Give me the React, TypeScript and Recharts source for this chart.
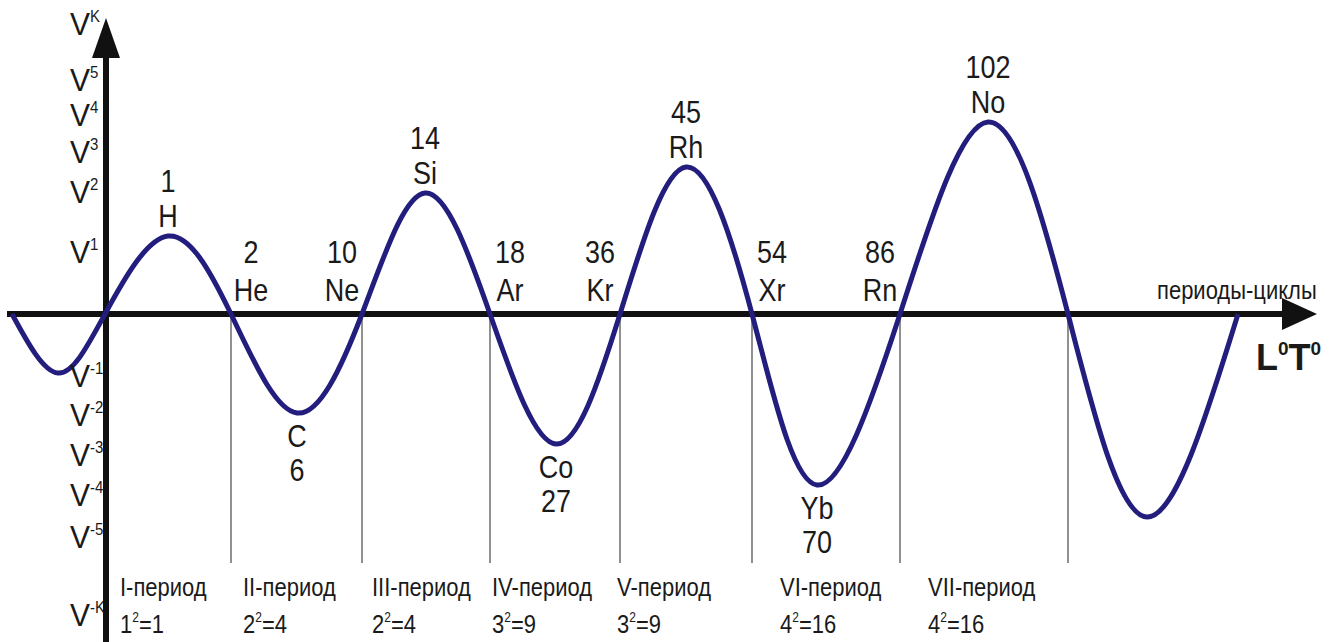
import React from "react";
import {
  ComposedChart,
  Line,
  ReferenceDot,
  ReferenceLine,
  XAxis,
  YAxis
} from "recharts";

// wave: zero crossings and extremes, x along the axis, v up from the axis
const curveX = [12, 58, 105, 168, 231, 297, 362, 425, 490, 556, 620, 686, 752, 817, 900, 988, 1068, 1147, 1238];
const curveV = [0, -59, 0, 78, 0, -99, 0, 121, 0, -130, 0, 147, 0, -171, 0, 192, 0, -203, 0];

// nodes where the wave crosses the axis (the period borders)
const periodBorders = [231, 362, 490, 620, 752, 900, 1068];

const peakElements = [
  { x: 168, v: 78, num: "1", sym: "H" },
  { x: 425, v: 121, num: "14", sym: "Si" },
  { x: 686, v: 147, num: "45", sym: "Rh" },
  { x: 988, v: 192, num: "102", sym: "No" }
];
const troughElements = [
  { x: 297, v: -99, num: "6", sym: "C" },
  { x: 556, v: -130, num: "27", sym: "Co" },
  { x: 817, v: -171, num: "70", sym: "Yb" }
];
const nodeElementsRight = [
  { x: 231, num: "2", sym: "He" },
  { x: 490, num: "18", sym: "Ar" },
  { x: 752, num: "54", sym: "Xr" }
];
const nodeElementsLeft = [
  { x: 362, num: "10", sym: "Ne" },
  { x: 620, num: "36", sym: "Kr" },
  { x: 900, num: "86", sym: "Rn" }
];

// V^k labels on the vertical axis
const vTickValues = [290, 234, 199, 162, 122, 62, -62, -101, -141, -181, -223, -301];
const vTickExps = ["K", "5", "4", "3", "2", "1", "-1", "-2", "-3", "-4", "-5", "-K"];

// period captions under the axis
const periodTickX = [120, 243, 372, 492, 617, 780, 928];
const periodNames = ["I-период", "II-период", "III-период", "IV-период", "V-период", "VI-период", "VII-период"];
const periodBases = ["1", "2", "2", "3", "3", "4", "4"];
const periodSquares = ["1", "4", "4", "9", "9", "16", "16"];

const curveData = curveX.map((x, i) => ({ x, v: curveV[i] }));

const curveColor = "#231e7d";
const axisColor = "#111111";
const textColor = "#1a1a1a";
const font = "'Liberation Sans', Arial, sans-serif";

const W = 1337;
const H = 642;

// the source lettering is a bit taller than Arial, stretch it vertically
const tall = (x: number, y: number, k = 1.15) => `translate(${x} ${y}) scale(1 ${k})`;

const VTick = (props: any) => {
  const idx = vTickValues.indexOf(props.payload.value);
  const exp = vTickExps[idx] ?? "";
  return (
    <text transform={tall(70, props.y + 11, 1.05)} fill={textColor} fontFamily={font} fontSize={30}>
      V
      <tspan dy={-12} fontSize={15}>
        {exp}
      </tspan>
    </text>
  );
};

const PeriodTick = (props: any) => {
  const idx = periodTickX.indexOf(props.payload.value);
  if (idx < 0) return null;
  const x = props.x;
  return (
    <g fill={textColor} fontFamily={font}>
      <text transform={tall(x, 596, 1.2)} fontSize={22}>
        {periodNames[idx]}
      </text>
      <text transform={tall(x, 633, 1.2)} fontSize={22}>
        {periodBases[idx]}
        <tspan dy={-9} fontSize={12}>
          2
        </tspan>
        <tspan dy={9}>={periodSquares[idx]}</tspan>
      </text>
    </g>
  );
};

const ElementLabel = ({
  cx,
  cy,
  num,
  sym,
  kind
}: {
  cx: number;
  cy: number;
  num: string;
  sym: string;
  kind: "peak" | "trough" | "right" | "left";
}) => {
  let x = cx;
  let numY = cy - 44;
  let symY = cy - 9;
  if (kind === "trough") {
    symY = cy + 34;
    numY = cy + 68;
  } else if (kind === "right" || kind === "left") {
    x = kind === "right" ? cx + 20 : cx - 20;
    numY = cy - 51;
    symY = cy - 13;
  }
  return (
    <g fill={textColor} fontFamily={font} fontSize={27} textAnchor="middle">
      <text transform={tall(x, numY)}>{num}</text>
      <text transform={tall(x, symY)}>{sym}</text>
    </g>
  );
};

const HorizontalArrow = (p: any) => (
  <g>
    <line x1={p.x1} y1={p.y1} x2={p.x2 - 30} y2={p.y2} stroke={axisColor} strokeWidth={6} />
    <polygon
      points={`${p.x2},${p.y2} ${p.x2 - 35},${p.y2 - 16} ${p.x2 - 35},${p.y2 + 16}`}
      fill={axisColor}
    />
    <text transform={tall(p.x2 - 160, p.y2 - 15)} fill={textColor} fontFamily={font} fontSize={22}>
      периоды-циклы
    </text>
    <text x={p.x2 - 61} y={p.y2 + 56} fill={textColor} fontFamily={font} fontSize={36} fontWeight="bold">
      L
      <tspan dy={-15} fontSize={19}>0</tspan>
      <tspan dy={15}>T</tspan>
      <tspan dy={-15} fontSize={19}>0</tspan>
    </text>
  </g>
);

const VerticalArrow = (p: any) => (
  <g>
    <line x1={p.x1} y1={p.y1} x2={p.x2} y2={p.y2 + 36} stroke={axisColor} strokeWidth={6} />
    <polygon
      points={`${p.x2},${p.y2} ${p.x2 - 14},${p.y2 + 40} ${p.x2 + 14},${p.y2 + 40}`}
      fill={axisColor}
    />
  </g>
);

export default function App() {
  return (
    <div style={{ position: "absolute", left: 0, top: 0, width: W, height: H, background: "#fff" }}>
      <ComposedChart width={W} height={H} data={curveData} margin={{ top: 0, right: 0, bottom: 0, left: 0 }}>
        <XAxis
          dataKey="x"
          type="number"
          domain={[0, W]}
          ticks={periodTickX}
          interval={0}
          mirror
          axisLine={false}
          tickLine={false}
          tick={<PeriodTick />}
        />
        <YAxis
          dataKey="v"
          type="number"
          domain={[-328, 314]}
          ticks={vTickValues}
          interval={0}
          mirror
          axisLine={false}
          tickLine={false}
          tick={<VTick />}
        />
        {periodBorders.map((b) => (
          <ReferenceLine
            key={b}
            segment={[{ x: b, y: 0 }, { x: b, y: -249 }]}
            stroke="#555555"
            strokeWidth={1.3}
            ifOverflow="visible"
          />
        ))}
        <ReferenceLine
          segment={[{ x: 7, y: 0 }, { x: 1317, y: 0 }]}
          ifOverflow="visible"
          shape={HorizontalArrow}
        />
        <ReferenceLine
          segment={[{ x: 106, y: -328 }, { x: 106, y: 296 }]}
          ifOverflow="visible"
          shape={VerticalArrow}
        />
        <Line
          type="natural"
          dataKey="v"
          stroke={curveColor}
          strokeWidth={5}
          dot={false}
          activeDot={false}
          isAnimationActive={false}
        />
        {peakElements.map((e) => (
          <ReferenceDot
            key={e.sym}
            x={e.x}
            y={e.v}
            r={0}
            ifOverflow="visible"
            shape={(p: any) => <ElementLabel cx={p.cx} cy={p.cy} num={e.num} sym={e.sym} kind="peak" />}
          />
        ))}
        {troughElements.map((e) => (
          <ReferenceDot
            key={e.sym}
            x={e.x}
            y={e.v}
            r={0}
            ifOverflow="visible"
            shape={(p: any) => <ElementLabel cx={p.cx} cy={p.cy} num={e.num} sym={e.sym} kind="trough" />}
          />
        ))}
        {nodeElementsRight.map((e) => (
          <ReferenceDot
            key={e.sym}
            x={e.x}
            y={0}
            r={0}
            ifOverflow="visible"
            shape={(p: any) => <ElementLabel cx={p.cx} cy={p.cy} num={e.num} sym={e.sym} kind="right" />}
          />
        ))}
        {nodeElementsLeft.map((e) => (
          <ReferenceDot
            key={e.sym}
            x={e.x}
            y={0}
            r={0}
            ifOverflow="visible"
            shape={(p: any) => <ElementLabel cx={p.cx} cy={p.cy} num={e.num} sym={e.sym} kind="left" />}
          />
        ))}
      </ComposedChart>
    </div>
  );
}
